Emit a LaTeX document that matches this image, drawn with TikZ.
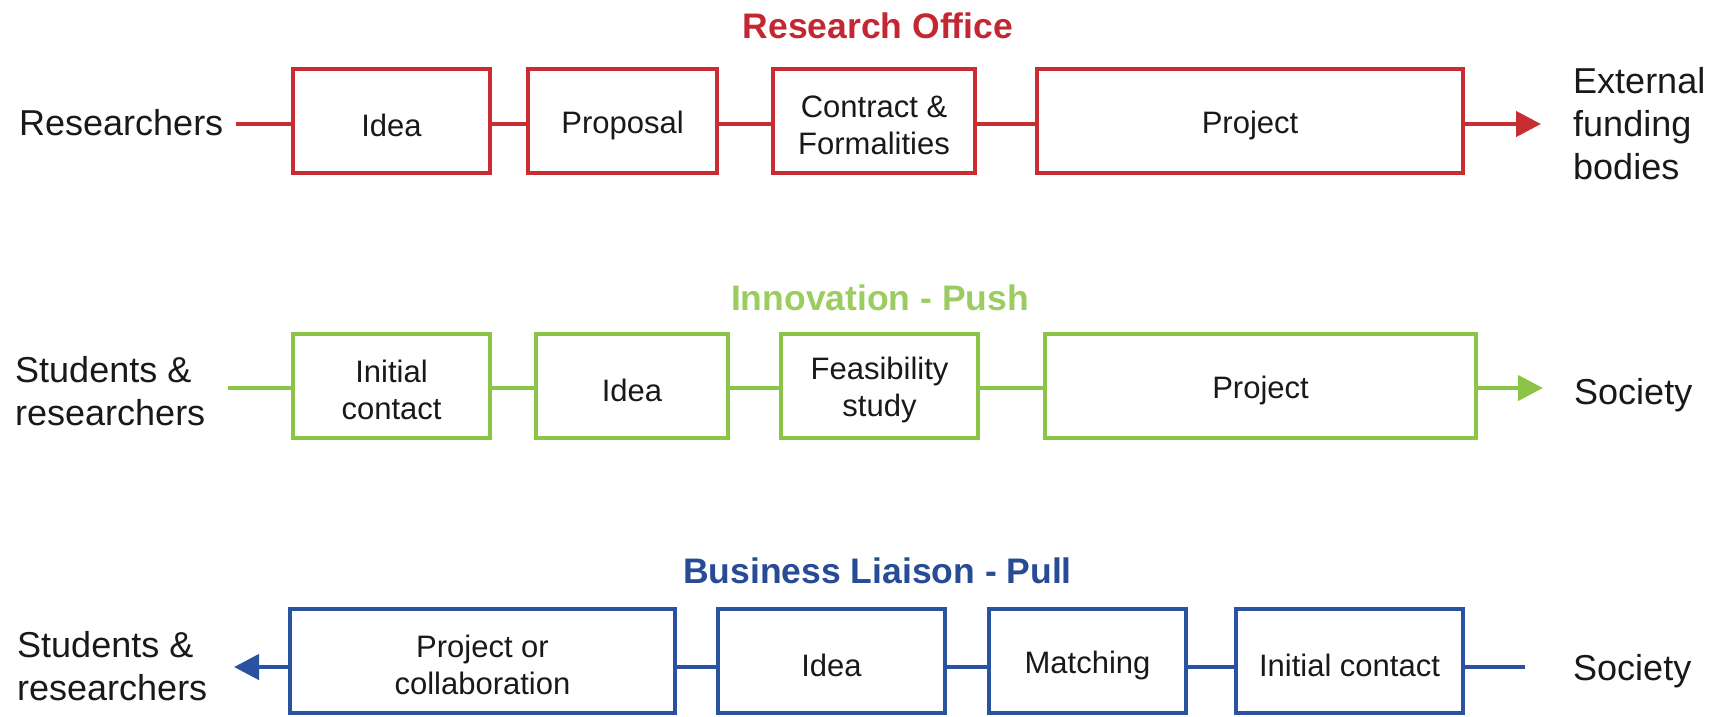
\documentclass[tikz,border=0pt]{standalone}
\usepackage{fontspec}
\setmainfont{Liberation Sans}
\usetikzlibrary{arrows.meta}
\definecolor{rored}{RGB}{200,45,50}
\definecolor{roredT}{RGB}{195,40,50}
\definecolor{ingreen}{RGB}{140,196,72}
\definecolor{ingreenT}{RGB}{155,204,96}
\definecolor{blblue}{RGB}{42,82,160}
\definecolor{blblueT}{RGB}{40,75,150}
\definecolor{txt}{RGB}{25,25,25}
\begin{document}
\begin{tikzpicture}[x=1pt,y=-1pt,
  stage/.style={draw, line width=4pt, fill=white, minimum height=104pt, inner sep=0pt},
  stxt/.style={inner sep=0pt, yshift=-4pt, align=center, font=\fontsize{31}{37}\selectfont, text=txt},
  outer/.style={inner sep=0pt, align=left, font=\fontsize{36}{43}\selectfont, text=txt},
  ttl/.style={inner sep=0pt, anchor=base, font=\fontsize{35.5}{42}\selectfont\bfseries},
  link/.style={line width=4.5pt},
  tip/.style={-{Triangle[length=25pt,width=25pt]}, line width=4.5pt},
]
\useasboundingbox (0,0) rectangle (1717,716);

% ---------- Row 1: Research Office ----------
\node[ttl, text=roredT] (t1) at (878,38) {Research Office};
\node[outer, anchor=base west] (src1) at (19,135) {Researchers};
\node[stage, draw=rored, minimum width=197pt, label={[stxt, name=r1t]center:Idea}] (r1) at (391.5,121) {};
\node[stage, draw=rored, minimum width=189pt, label={[stxt, name=r2t]center:Proposal}] (r2) at (622.5,121) {};
\node[stage, draw=rored, minimum width=202pt, label={[stxt, name=r3t]center:Contract \&\\Formalities}] (r3) at (874,121) {};
\node[stage, draw=rored, minimum width=426pt, label={[stxt, name=r4t]center:Project}] (r4) at (1250,121) {};
\node[outer, anchor=north west] (d1) at (1573,67) {External\\funding\\bodies};
\coordinate (s1) at (236,124);
\coordinate (e1) at (1541,124);
\draw[link, rored] (s1) -- (s1 -| r1.west);
\draw[link, rored] (r1.east |- s1) -- (r2.west |- s1);
\draw[link, rored] (r2.east |- s1) -- (r3.west |- s1);
\draw[link, rored] (r3.east |- s1) -- (r4.west |- s1);
\draw[tip, rored] (r4.east |- e1) -- (e1);

% ---------- Row 2: Innovation - Push ----------
\node[ttl, text=ingreenT] (t2) at (880,310) {Innovation - Push};
\node[outer, anchor=north west] (src2) at (15,356) {Students \&\\researchers};
\node[stage, draw=ingreen, minimum width=197pt, label={[stxt, name=g1t]center:Initial\\contact}] (g1) at (391.5,386) {};
\node[stage, draw=ingreen, minimum width=192pt, label={[stxt, name=g2t]center:Idea}] (g2) at (632,386) {};
\node[stage, draw=ingreen, minimum width=197pt, label={[stxt, name=g3t]center:Feasibility\\study}] (g3) at (879.5,386) {};
\node[stage, draw=ingreen, minimum width=431pt, label={[stxt, name=g4t]center:Project}] (g4) at (1260.5,386) {};
\node[outer, anchor=base west] (d2) at (1574,404) {Society};
\coordinate (s2) at (228,388);
\coordinate (e2) at (1543,388);
\draw[link, ingreen] (s2) -- (s2 -| g1.west);
\draw[link, ingreen] (g1.east |- s2) -- (g2.west |- s2);
\draw[link, ingreen] (g2.east |- s2) -- (g3.west |- s2);
\draw[link, ingreen] (g3.east |- s2) -- (g4.west |- s2);
\draw[tip, ingreen] (g4.east |- e2) -- (e2);

% ---------- Row 3: Business Liaison - Pull ----------
\node[ttl, text=blblueT] (t3) at (877.5,583) {Business Liaison - Pull};
\node[outer, anchor=north west] (src3) at (17,631) {Students \&\\researchers};
\node[stage, draw=blblue, minimum width=385pt, label={[stxt, name=b1t]center:Project or\\collaboration}] (b1) at (482.5,661) {};
\node[stage, draw=blblue, minimum width=227pt, label={[stxt, name=b2t]center:Idea}] (b2) at (831.5,661) {};
\node[stage, draw=blblue, minimum width=197pt, label={[stxt, name=b3t]center:Matching}] (b3) at (1087.5,661) {};
\node[stage, draw=blblue, minimum width=227pt, label={[stxt, name=b4t]center:Initial contact}] (b4) at (1349.5,661) {};
\node[outer, anchor=base west] (d3) at (1573,680) {Society};
\coordinate (e3) at (234,667);
\coordinate (s3) at (1525,667);
\draw[tip, blblue] (b1.west |- e3) -- (e3);
\draw[link, blblue] (b1.east |- e3) -- (b2.west |- e3);
\draw[link, blblue] (b2.east |- e3) -- (b3.west |- e3);
\draw[link, blblue] (b3.east |- e3) -- (b4.west |- e3);
\draw[link, blblue] (b4.east |- s3) -- (s3);
\end{tikzpicture}
\end{document}
